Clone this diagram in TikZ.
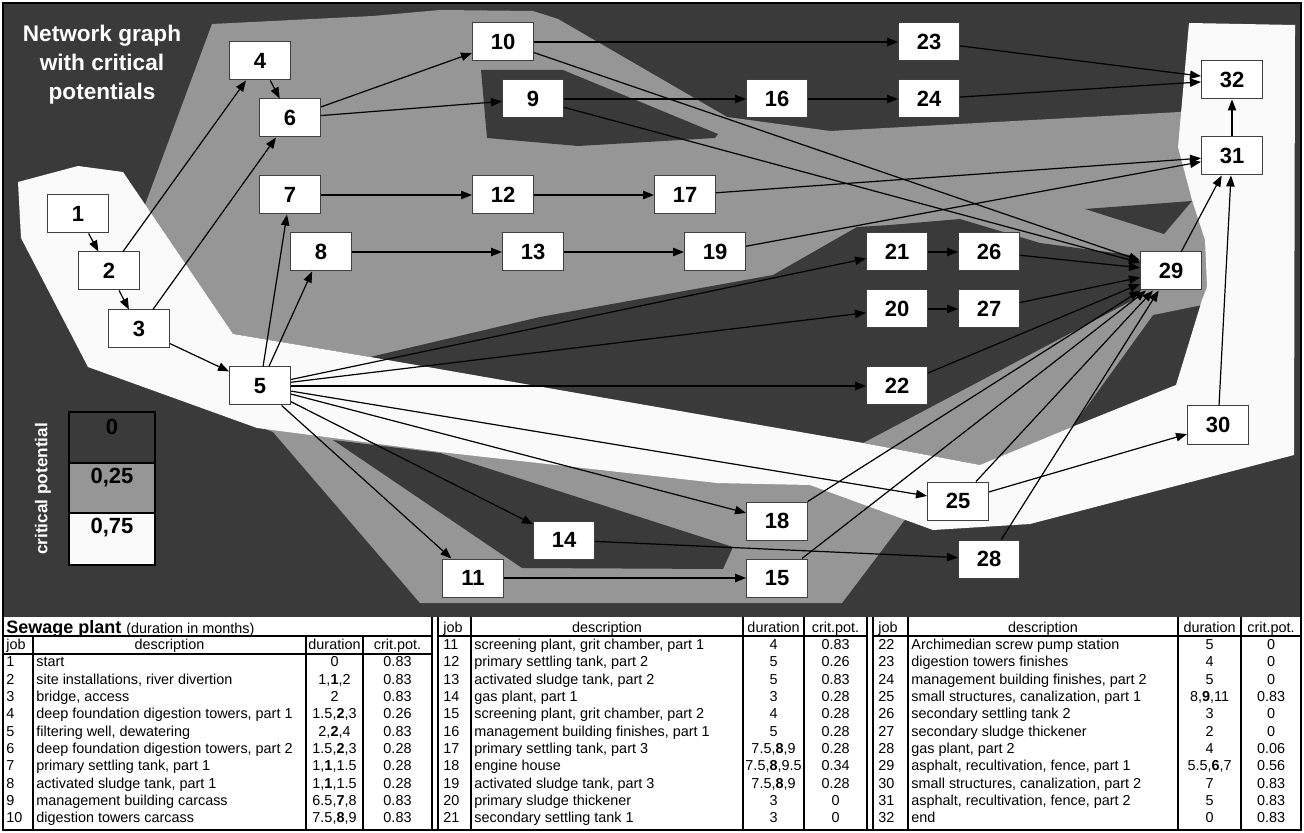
\documentclass[tikz,border=0pt]{standalone}
\usepackage{fontspec}
\setmainfont{Liberation Sans}
\usetikzlibrary{arrows.meta}
\definecolor{cdark}{RGB}{58,58,58}
\definecolor{cmid}{RGB}{150,150,150}
\definecolor{clight}{RGB}{250,250,250}
\def\xjA{6}\def\xdA{36}\def\xuA{334.5}\def\xcA{397.5}
\def\xjB{443}\def\xdB{474}\def\xuB{773.5}\def\xcB{835.5}
\def\xjC{878}\def\xdC{911}\def\xuC{1209.5}\def\xcC{1271}
\newcommand\trow[6]{%
  \pgfmathsetmacro\tyy{632+17.35*#2}%
  \edef\xxj{\csname xj#1\endcsname}\edef\xxd{\csname xd#1\endcsname}%
  \edef\xxu{\csname xu#1\endcsname}\edef\xxc{\csname xc#1\endcsname}%
  \node[tabtxt,anchor=base west] (tj#3) at (\xxj,\tyy) {#3};
  \node[tabtxt,anchor=base west] (td#3) at (\xxd,\tyy) {#4};
  \node[tabtxt,anchor=base] (tu#3) at (\xxu,\tyy) {#5};
  \node[tabtxt,anchor=base] (tc#3) at (\xxc,\tyy) {#6};
}
\begin{document}
\begin{tikzpicture}[x=0.5pt,y=-0.5pt,
  box/.style={draw=black!75,fill=white,line width=0.5pt,minimum width=30.5pt,minimum height=19pt,inner sep=0pt,font=\fontsize{11}{13}\selectfont\bfseries},
  edge/.style={-{Triangle[length=5.5pt,width=4.2pt]},line width=0.6pt,black},
  tabtxt/.style={inner sep=0pt,font=\fontsize{7.2}{8}\selectfont},
  legtxt/.style={inner sep=0pt,font=\fontsize{11}{13}\selectfont\bfseries},
  tline/.style={line width=1pt,black}
]
\useasboundingbox (0,0) rectangle (1304,833);
% background
\fill[cdark] (3,3) rectangle (1301,617);
% main gray region
\fill[cmid] (212,24) -- (373,16) -- (440,10) -- (533,11) -- (558,19) -- (727,117) -- (830,131) -- (1180,112) -- (1230,112) -- (1230,305) -- (1202,305) -- (1153,315) -- (1072,427) -- (980,465) -- (863,443) -- (370,357) -- (233,334) -- (145,205) -- cycle;
% lower gray band
\fill[cmid] (257,426) -- (440,450) -- (717,481) -- (810,483) -- (907,517) -- (842,603) -- (420,603) -- (273,432) -- cycle;
% dark islands
\fill[cdark] (481,70) -- (563,70) -- (718,134) -- (715,138) -- (578,146) -- (487,138) -- cycle;
\fill[cdark] (1085,209) -- (1192,201) -- (1164,234) -- cycle;
\fill[cdark] (370,357) -- (540,317) -- (773,275) -- (857,227) -- (890,225) -- (960,219) -- (1040,243) -- (1130,255) -- (1141,262) -- (1141,290) -- (1133,300) -- (863,443) -- cycle;
\fill[cdark] (333,440) -- (440,453) -- (733,547) -- (723,569) -- (522,568) -- cycle;
% light region
\fill[clight] (18,182) -- (78,166) -- (123,172) -- (233,334) -- (370,357) -- (863,443) -- (980,465) -- (1072,427) -- (1176,385) -- (1202,300) -- (1207,287) -- (1205,240) -- (1192,200) -- (1178,147) -- (1189,23) -- (1295,25) -- (1294,455) -- (1030,524) -- (933,530) -- (810,485) -- (717,483) -- (440,452) -- (257,428) -- (88,367) -- (21,238) -- cycle;
% title
\node[text=white,align=center,inner sep=0pt,font=\fontsize{11.3}{14.5}\selectfont\bfseries] (title) at (102,65) {Network graph\\with critical\\potentials};
% legend
\draw[line width=0.8pt,fill=cdark] (69,412) rectangle (155,463);
\draw[line width=0.8pt,fill=cmid] (69,463) rectangle (155,513);
\draw[line width=0.8pt,fill=clight] (69,513) rectangle (155,565);
\node[legtxt] (leg0) at (112,427) {0};
\node[legtxt] (leg1) at (112,478) {0,25};
\node[legtxt] (leg2) at (112,528) {0,75};
\node[rotate=90,text=white,inner sep=0pt,font=\fontsize{8.6}{10}\selectfont\bfseries] (legt) at (43,489) {critical potential};
% nodes
\node[box] (n1) at (78,214) {1};
\node[box] (n2) at (109,271) {2};
\node[box] (n3) at (139,329) {3};
\node[box] (n4) at (260,61) {4};
\node[box] (n5) at (260,386) {5};
\node[box] (n6) at (290,118) {6};
\node[box] (n7) at (290,195) {7};
\node[box] (n8) at (321,252) {8};
\node[box] (n9) at (533,99) {9};
\node[box] (n10) at (503,42) {10};
\node[box] (n11) at (473,578) {11};
\node[box] (n12) at (503,195) {12};
\node[box] (n13) at (533,252) {13};
\node[box] (n14) at (564,540) {14};
\node[box] (n15) at (777,578) {15};
\node[box] (n16) at (777,99) {16};
\node[box] (n17) at (685,195) {17};
\node[box] (n18) at (777,521) {18};
\node[box] (n19) at (715,252) {19};
\node[box] (n20) at (897,309) {20};
\node[box] (n21) at (897,252) {21};
\node[box] (n22) at (897,386) {22};
\node[box] (n23) at (929,42) {23};
\node[box] (n24) at (929,99) {24};
\node[box] (n25) at (958,501) {25};
\node[box] (n26) at (989,252) {26};
\node[box] (n27) at (989,309) {27};
\node[box] (n28) at (989,559) {28};
\node[box] (n29) at (1171,271) {29};
\node[box] (n30) at (1218,425) {30};
\node[box] (n31) at (1232,156) {31};
\node[box] (n32) at (1232,80) {32};
% edges
\foreach \a/\b in {1/2,2/3,2/4,3/6,3/5,4/6,5/7,5/8,5/11,5/14,5/18,5/25,5/22,5/20,5/21,6/10,6/9,7/12,12/17,17/31,8/13,13/19,19/31,9/16,9/29,16/24,24/32,10/23,10/29,23/32,11/15,15/29,14/28,28/29,18/29,20/27,27/29,21/26,26/29,22/29,25/30,25/29,29/31,30/31,31/32}
  \draw[edge] (n\a) -- (n\b);
% table
\fill[white] (3,617) rectangle (1301,830);
\draw[tline] (3,617) -- (3,830);
\draw[tline] (432,617) -- (432,830);
\foreach \x in {33,306,363} \draw[tline] (\x,636) -- (\x,830);
\foreach \x in {438,471,743,804,867,873,908,1178,1241,1301} \draw[tline] (\x,617) -- (\x,830);
\draw[line width=0.7pt] (3,636) -- (432,636);
\draw[tline] (3,653.5) -- (432,653.5);
\draw[tline] (438,636) -- (867,636);
\draw[tline] (873,636) -- (1301,636);
\draw[tline] (3,830) -- (1301,830);
\node[anchor=base west,inner sep=0pt] (ttl) at (6,633) {\fontsize{9}{10}\selectfont\bfseries Sewage plant \fontsize{7.2}{8}\selectfont\mdseries (duration in months)};
% headers
\node[tabtxt,anchor=base west] (hAj) at (\xjA,649.35) {job};
\node[tabtxt,anchor=base] (hAd) at (169.5,649.35) {description};
\node[tabtxt,anchor=base] (hAu) at (\xuA,649.35) {duration};
\node[tabtxt,anchor=base] (hAc) at (\xcA,649.35) {crit.pot.};
\node[tabtxt,anchor=base west] (hBj) at (\xjB,632) {job};
\node[tabtxt,anchor=base] (hBd) at (607,632) {description};
\node[tabtxt,anchor=base] (hBu) at (\xuB,632) {duration};
\node[tabtxt,anchor=base] (hBc) at (\xcB,632) {crit.pot.};
\node[tabtxt,anchor=base west] (hCj) at (\xjC,632) {job};
\node[tabtxt,anchor=base] (hCd) at (1043,632) {description};
\node[tabtxt,anchor=base] (hCu) at (\xuC,632) {duration};
\node[tabtxt,anchor=base] (hCc) at (\xcC,632) {crit.pot.};
% rows
\trow{A}{2}{1}{start}{0}{0.83}
\trow{A}{3}{2}{site installations, river divertion}{1,\textbf{1},2}{0.83}
\trow{A}{4}{3}{bridge, access}{2}{0.83}
\trow{A}{5}{4}{deep foundation digestion towers, part 1}{1.5,\textbf{2},3}{0.26}
\trow{A}{6}{5}{filtering well, dewatering}{2,\textbf{2},4}{0.83}
\trow{A}{7}{6}{deep foundation digestion towers, part 2}{1.5,\textbf{2},3}{0.28}
\trow{A}{8}{7}{primary settling tank, part 1}{1,\textbf{1},1.5}{0.28}
\trow{A}{9}{8}{activated sludge tank, part 1}{1,\textbf{1},1.5}{0.28}
\trow{A}{10}{9}{management building carcass}{6.5,\textbf{7},8}{0.83}
\trow{A}{11}{10}{digestion towers carcass}{7.5,\textbf{8},9}{0.83}
\trow{B}{1}{11}{screening plant, grit chamber, part 1}{4}{0.83}
\trow{B}{2}{12}{primary settling tank, part 2}{5}{0.26}
\trow{B}{3}{13}{activated sludge tank, part 2}{5}{0.83}
\trow{B}{4}{14}{gas plant, part 1}{3}{0.28}
\trow{B}{5}{15}{screening plant, grit chamber, part 2}{4}{0.28}
\trow{B}{6}{16}{management building finishes, part 1}{5}{0.28}
\trow{B}{7}{17}{primary settling tank, part 3}{7.5,\textbf{8},9}{0.28}
\trow{B}{8}{18}{engine house}{7.5,\textbf{8},9.5}{0.34}
\trow{B}{9}{19}{activated sludge tank, part 3}{7.5,\textbf{8},9}{0.28}
\trow{B}{10}{20}{primary sludge thickener}{3}{0}
\trow{B}{11}{21}{secondary settling tank 1}{3}{0}
\trow{C}{1}{22}{Archimedian screw pump station}{5}{0}
\trow{C}{2}{23}{digestion towers finishes}{4}{0}
\trow{C}{3}{24}{management building finishes, part 2}{5}{0}
\trow{C}{4}{25}{small structures, canalization, part 1}{8,\textbf{9},11}{0.83}
\trow{C}{5}{26}{secondary settling tank 2}{3}{0}
\trow{C}{6}{27}{secondary sludge thickener}{2}{0}
\trow{C}{7}{28}{gas plant, part 2}{4}{0.06}
\trow{C}{8}{29}{asphalt, recultivation, fence, part 1}{5.5,\textbf{6},7}{0.56}
\trow{C}{9}{30}{small structures, canalization, part 2}{7}{0.83}
\trow{C}{10}{31}{asphalt, recultivation, fence, part 2}{5}{0.83}
\trow{C}{11}{32}{end}{0}{0.83}
% frame
\draw[line width=0.8pt] (3,3) rectangle (1301,830);
\end{tikzpicture}
\end{document}
